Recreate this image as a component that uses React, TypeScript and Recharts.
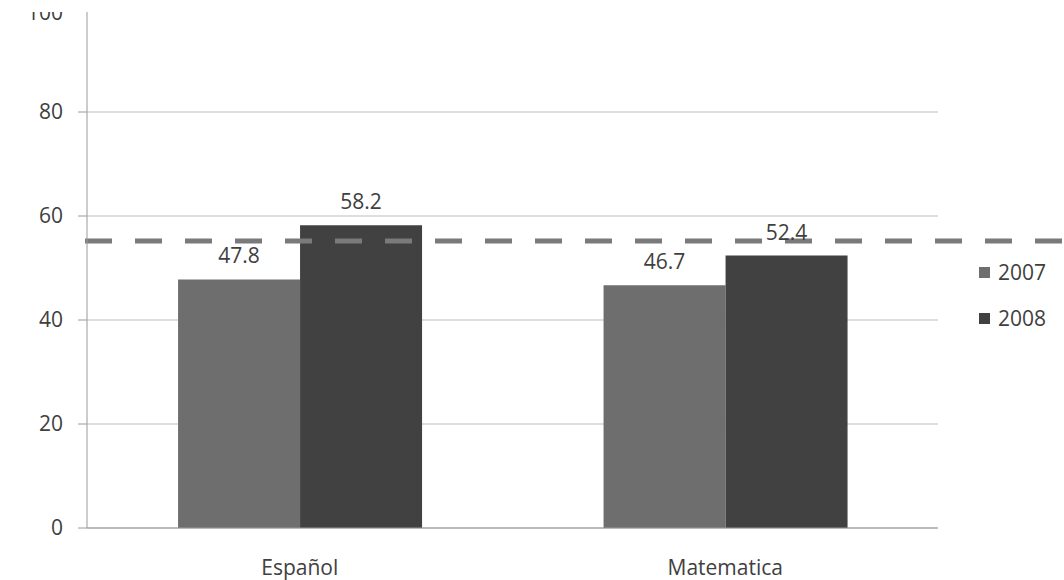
import { BarChart, Bar, XAxis, YAxis, CartesianGrid, ReferenceLine, LabelList, Legend } from "recharts";

const subjects = ["Español", "Matematica"];
const years = ["2007", "2008"];
const scores2007 = [47.8, 46.7];
const scores2008 = [58.2, 52.4];
const yTicks = [0, 20, 40, 60, 80, 100];
const edgeTicks = [0, 1, 2];
const targetScore = 55.2;

const data = subjects.map((s, i) => ({ subject: s, y2007: scores2007[i], y2008: scores2008[i] }));

const colors = ["#6e6e6e", "#414141"];
const textColor = "#404040";
const font = "'Open Sans', Lato, sans-serif";
const fontSize = 21;
const margin = { top: 8, right: 126, left: 0, bottom: 12 };

const DashedTarget = (props: any) => (
  <line
    x1={props.x1 - 2}
    y1={props.y1}
    x2={props.x2 + margin.right}
    y2={props.y2}
    stroke="#7a7a7a"
    strokeWidth={5}
    strokeDasharray="27 23"
  />
);

const renderLegend = () => (
  <div style={{ fontFamily: font, fontSize, color: textColor }}>
    {years.map((y, i) => (
      <div key={y} style={{ display: "flex", alignItems: "center", height: 46 }}>
        <span style={{ width: 11, height: 11, background: colors[i], marginRight: 8, display: "inline-block" }} />
        <span>{y}</span>
      </div>
    ))}
  </div>
);

export default function App() {
  return (
    <div style={{ position: "absolute", left: 0, top: 12, width: 1064, height: 568, overflow: "hidden", background: "#fff" }}>
      <div style={{ marginTop: -12 }}>
        <BarChart
          width={1064}
          height={580}
          data={data}
          margin={margin}
          barCategoryGap="21.4%"
          barGap={0}
          style={{ fontFamily: font }}
        >
          <CartesianGrid vertical={false} stroke="#bdbdbd" />
          <XAxis
            xAxisId="edges"
            type="number"
            domain={[0, 2]}
            ticks={edgeTicks}
            allowDataOverflow
            height={0}
            axisLine={false}
            tick={false}
            tickSize={6}
            tickLine={{ stroke: "#9a9a9a" }}
          />
          <XAxis
            dataKey="subject"
            height={40}
            tickLine={false}
            axisLine={{ stroke: "#9a9a9a" }}
            tickMargin={26}
            tick={{ fill: textColor, fontSize }}
          />
          <YAxis
            width={87}
            domain={[0, 100]}
            ticks={yTicks}
            tickSize={9}
            tickMargin={15}
            axisLine={{ stroke: "#9a9a9a" }}
            tickLine={{ stroke: "#9a9a9a" }}
            tick={{ fill: textColor, fontSize }}
          />
          <Legend
            layout="horizontal"
            verticalAlign="middle"
            align="center"
            content={renderLegend}
            wrapperStyle={{ left: 979, top: 249, width: 85 }}
          />
          <Bar dataKey="y2007" name={years[0]} fill={colors[0]} isAnimationActive={false}>
            <LabelList dataKey="y2007" position="top" offset={16} fill={textColor} fontSize={fontSize} />
          </Bar>
          <Bar dataKey="y2008" name={years[1]} fill={colors[1]} isAnimationActive={false}>
            <LabelList dataKey="y2008" position="top" offset={16} fill={textColor} fontSize={fontSize} />
          </Bar>
          <ReferenceLine y={targetScore} shape={DashedTarget} />
        </BarChart>
      </div>
    </div>
  );
}
